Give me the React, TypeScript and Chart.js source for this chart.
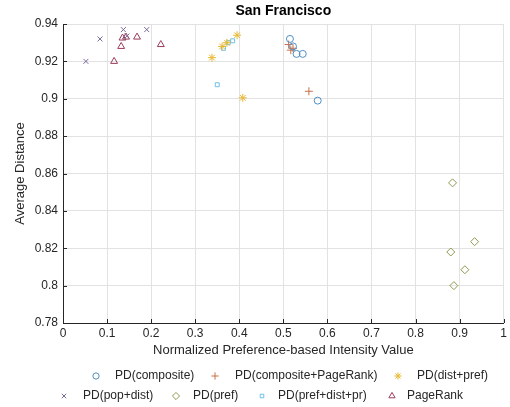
import React, { useEffect, useRef } from "react";
import { Chart, registerables } from "chart.js";
import { drawPoint } from "chart.js/helpers";

Chart.register(...registerables);

const compositeX = [0.515, 0.522, 0.53, 0.544, 0.578];
const compositeY = [0.932, 0.928, 0.924, 0.924, 0.899];
const compPRX = [0.512, 0.517, 0.522, 0.558];
const compPRY = [0.929, 0.926, 0.927, 0.904];
const distPrefX = [0.338, 0.361, 0.372, 0.395, 0.408];
const distPrefY = [0.922, 0.928, 0.93, 0.934, 0.9005];
const popDistX = [0.052, 0.084, 0.137, 0.145, 0.19];
const popDistY = [0.92, 0.932, 0.937, 0.9335, 0.937];
const prefX = [0.884, 0.934, 0.88, 0.912, 0.887];
const prefY = [0.855, 0.8235, 0.818, 0.8085, 0.8];
const prefDistPrX = [0.35, 0.364, 0.375, 0.385];
const prefDistPrY = [0.9075, 0.927, 0.93, 0.931];
const pageRankX = [0.116, 0.132, 0.135, 0.143, 0.168, 0.222];
const pageRankY = [0.92, 0.928, 0.9325, 0.933, 0.933, 0.929];

const xTicks = [0, 0.1, 0.2, 0.3, 0.4, 0.5, 0.6, 0.7, 0.8, 0.9, 1];
const yTicks = [0.78, 0.8, 0.82, 0.84, 0.86, 0.88, 0.9, 0.92, 0.94];

const seriesNames = [
  "PD(composite)",
  "PD(composite+PageRank)",
  "PD(dist+pref)",
  "PD(pop+dist)",
  "PD(pref)",
  "PD(pref+dist+pr)",
  "PageRank",
];
const seriesX = [compositeX, compPRX, distPrefX, popDistX, prefX, prefDistPrX, pageRankX];
const seriesY = [compositeY, compPRY, distPrefY, popDistY, prefY, prefDistPrY, pageRankY];
const seriesColors = ["#4f8fc4", "#c8704a", "#e8b830", "#7b6a9a", "#8a9a50", "#6cc0e8", "#9a3c5c"];
const seriesStyles = ["circle", "cross", "star", "crossRot", "rectRot", "rect", "triangle"];
const seriesRadius = [3.5, 4, 4, 3.5, 4, 2.8, 4];

const FONT = "'Liberation Sans', Arial, Helvetica, sans-serif";

const legendLayout = [
  { mx: 96, tx: 115, y: 376 },
  { mx: 215, tx: 235, y: 376 },
  { mx: 398, tx: 417, y: 376 },
  { mx: 64, tx: 83, y: 396 },
  { mx: 176, tx: 193, y: 396 },
  { mx: 262, tx: 278, y: 396 },
  { mx: 392, tx: 407, y: 396 },
];

const decorPlugin = {
  id: "decor",
  afterDraw(chart: any) {
    const ctx = chart.ctx;
    const ca = chart.chartArea;
    const xs = chart.scales.x;
    const ys = chart.scales.y;
    ctx.save();
    // inward tick marks
    ctx.strokeStyle = "#262626";
    ctx.lineWidth = 1;
    ctx.beginPath();
    xTicks.forEach((t) => {
      const px = Math.round(xs.getPixelForValue(t)) + 0.5;
      ctx.moveTo(px, ca.bottom);
      ctx.lineTo(px, ca.bottom - 4);
    });
    yTicks.forEach((t) => {
      const py = Math.round(ys.getPixelForValue(t)) + 0.5;
      ctx.moveTo(ca.left, py);
      ctx.lineTo(ca.left + 4, py);
    });
    ctx.stroke();
    // title
    ctx.fillStyle = "#000";
    ctx.textAlign = "center";
    ctx.textBaseline = "middle";
    ctx.font = `bold 14px ${FONT}`;
    ctx.fillText("San Francisco", (ca.left + ca.right) / 2, 11);
    // axis titles
    ctx.fillStyle = "#262626";
    ctx.font = `13px ${FONT}`;
    ctx.fillText("Normalized Preference-based Intensity Value", (ca.left + ca.right) / 2, 350);
    ctx.save();
    ctx.translate(20, (ca.top + ca.bottom) / 2);
    ctx.rotate(-Math.PI / 2);
    ctx.fillText("Average Distance", 0, 0);
    ctx.restore();
    // legend
    ctx.font = `12px ${FONT}`;
    ctx.textAlign = "left";
    seriesNames.forEach((name, i) => {
      const l = legendLayout[i];
      ctx.strokeStyle = seriesColors[i];
      ctx.fillStyle = "rgba(0,0,0,0)";
      ctx.lineWidth = 1;
      drawPoint(ctx, { pointStyle: seriesStyles[i], radius: seriesRadius[i] * 0.9, rotation: 0, borderWidth: 1 } as any, l.mx, l.y);
      ctx.fillStyle = "#262626";
      ctx.fillText(name, l.tx, l.y);
    });
    ctx.restore();
  },
};

export default function App() {
  const ref = useRef<HTMLCanvasElement | null>(null);
  useEffect(() => {
    if (!ref.current) return;
    const datasets = seriesNames.map((name, i) => ({
      label: name,
      data: seriesX[i].map((x, j) => ({ x, y: seriesY[i][j] })),
      pointStyle: seriesStyles[i] as any,
      pointRadius: seriesRadius[i],
      borderColor: seriesColors[i],
      backgroundColor: "rgba(0,0,0,0)",
      pointBorderWidth: 1,
      showLine: false,
    }));
    const chart = new Chart(ref.current, {
      type: "scatter",
      data: { datasets },
      plugins: [decorPlugin],
      options: {
        animation: false,
        responsive: false,
        maintainAspectRatio: false,
        layout: { padding: { left: 0, right: 6, top: 24, bottom: 0 } },
        plugins: { legend: { display: false }, title: { display: false }, tooltip: { enabled: false } },
        scales: {
          x: {
            type: "linear",
            min: 0,
            max: 1,
            afterBuildTicks: (s: any) => {
              s.ticks = xTicks.map((v) => ({ value: v }));
            },
            afterFit: (s: any) => {
              s.height = 84;
            },
            ticks: {
              padding: 3,
              color: "#262626",
              font: { family: FONT, size: 12 },
              callback: (v: any) => String(Number(Number(v).toFixed(2))),
              maxRotation: 0,
              autoSkip: false,
            },
            grid: { color: "#e2e2e2", drawTicks: false },
            border: { color: "#262626", width: 1 },
          },
          y: {
            type: "linear",
            min: 0.78,
            max: 0.94,
            afterBuildTicks: (s: any) => {
              s.ticks = yTicks.map((v) => ({ value: v }));
            },
            afterFit: (s: any) => {
              s.width = 63;
            },
            ticks: {
              padding: 5,
              color: "#262626",
              font: { family: FONT, size: 12 },
              callback: (v: any) => String(Number(Number(v).toFixed(2))),
              autoSkip: false,
            },
            grid: { color: "#e2e2e2", drawTicks: false },
            border: { color: "#262626", width: 1 },
          },
        },
      },
    });
    return () => chart.destroy();
  }, []);
  return (
    <div style={{ position: "absolute", left: 0, top: 0, width: 510, height: 407, background: "#fff" }}>
      <canvas ref={ref} width={510} height={407} style={{ width: 510, height: 407 }} />
    </div>
  );
}
